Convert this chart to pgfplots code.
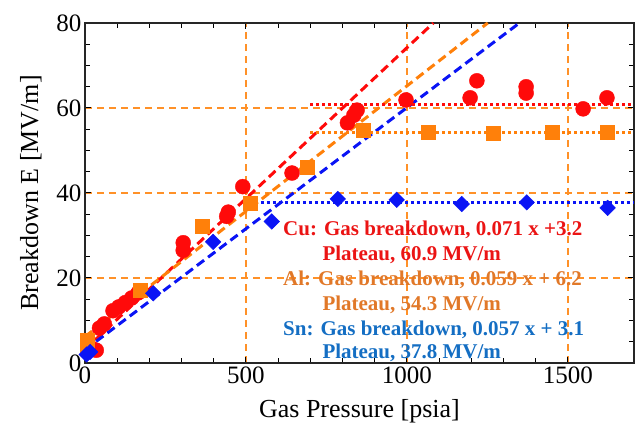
\documentclass[border=0pt]{standalone}
\usepackage{fontspec}
\setmainfont{Liberation Serif}
\usepackage{pgfplots}
\pgfplotsset{compat=1.18}
\definecolor{cured}{RGB}{255,10,10}
\definecolor{alor}{RGB}{255,128,10}
\definecolor{snbl}{RGB}{10,20,245}
\definecolor{cutext}{RGB}{235,20,20}
\definecolor{altext}{RGB}{225,120,40}
\definecolor{sntext}{RGB}{20,110,195}
\definecolor{gridor}{RGB}{255,145,40}
\begin{document}
\begin{tikzpicture}
\begin{axis}[
 scale only axis, width=549pt, height=340pt,
 xmin=0, xmax=1705, ymin=0, ymax=80,
 xtick={0,500,1000,1500}, ytick={0,20,40,60,80},
 minor x tick num=4, minor y tick num=3,
 tick align=inside, major tick length=6pt, minor tick length=5pt,
 every tick/.style={black, line width=1pt},
 axis line style={line width=1.3pt, black!85},
 grid=major,
 major grid style={gridor, line width=1.1pt, dash pattern=on 7pt off 5pt},
 tick label style={font=\fontsize{25}{25}\selectfont},
 /pgf/number format/assume math mode=true,
 /pgf/number format/1000 sep={},
 xlabel={Gas Pressure [psia]}, ylabel={Breakdown E [MV/m]},
 label style={font=\fontsize{26}{26}\selectfont},
 xlabel style={yshift=-9pt},
 ylabel style={yshift=8pt},
]
% fit lines
\addplot[cured, line width=3pt, dash pattern=on 9pt off 5pt] coordinates {(0,3.2) (1081.7,80)};
\addplot[alor, line width=3pt, dash pattern=on 9pt off 5pt] coordinates {(0,6.2) (1250.8,80)};
\addplot[snbl, line width=3pt, dash pattern=on 9pt off 5pt] coordinates {(0,3.1) (1349.1,80)};
% plateaus
\addplot[cured, line width=3pt, dash pattern=on 3pt off 3pt] coordinates {(700,60.9) (1705,60.9)};
\addplot[alor, line width=3pt, dash pattern=on 3pt off 3pt] coordinates {(700,54.3) (1705,54.3)};
\addplot[snbl, line width=3pt, dash pattern=on 3pt off 3pt] coordinates {(490,37.8) (1705,37.8)};
% data
\addplot[only marks, mark=*, mark size=7.5pt, cured, mark options={draw=cured, fill=cured}] coordinates {
(20,3.5) (35,3) (45,8.2) (60,9.2) (87,12.3) (105,13.2) (125,14.2) (145,15.3) (165,16.5)
(305,26.5) (305,28.3) (440,34.5) (445,35.5) (490,41.5) (643,44.7)
(815,56.5) (835,58.3) (845,59.5) (997,61.9) (1196,62.4) (1217,66.4)
(1370,63.5) (1370,65) (1547,59.8) (1621,62.4)};
\addplot[only marks, mark=square*, mark size=7pt, alor, mark options={draw=alor, fill=alor}] coordinates {
(6,5.4) (8,4) (172,17.2) (365,32.2) (512,37.7) (689,46) (864,54.8)
(1066,54.4) (1268,54.1) (1450,54.3) (1621,54.4)};
\addplot[only marks, mark=square*, mark size=5.5pt, snbl, mark options={draw=snbl, fill=snbl, rotate=45}] coordinates {
(5,2) (16,2.6) (212,16.4) (398,28.5) (580,33.3) (785,38.6) (968,38.4)
(1170,37.4) (1372,37.8) (1623,36.5)};
% annotations
\tikzset{ann/.style={anchor=west, inner sep=0pt, font=\bfseries\fontsize{21}{21}\selectfont}}
\node[ann, text=cutext] at (axis cs:615,31.3) {Cu: Gas breakdown, 0.071 x +3.2};
\node[ann, text=cutext] at (axis cs:737,25.4) {Plateau, 60.9 MV/m};
\node[ann, text=altext] at (axis cs:615,19.5) {Al: Gas breakdown, 0.059 x + 6.2};
\node[ann, text=altext] at (axis cs:737,13.6) {Plateau, 54.3 MV/m};
\node[ann, text=sntext] at (axis cs:615,7.8) {Sn: Gas breakdown, 0.057 x + 3.1};
\node[ann, text=sntext] at (axis cs:737,2.35) {Plateau, 37.8 MV/m};
\coordinate (bl) at (rel axis cs:0,0);
\coordinate (tr) at (rel axis cs:1,1);
\end{axis}
\pgfresetboundingbox
\path ([shift={(-85pt,-71pt)}]bl) rectangle ([shift={(3pt,23pt)}]tr);
\end{tikzpicture}
\end{document}
